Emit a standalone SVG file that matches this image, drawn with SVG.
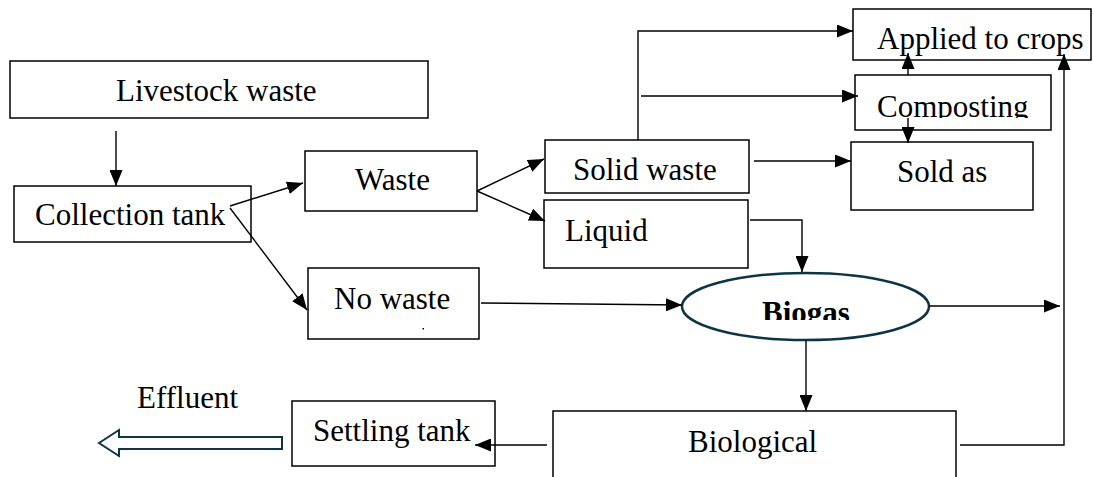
<svg xmlns="http://www.w3.org/2000/svg" width="1094" height="477" viewBox="0 0 1094 477">
<style>
.box{fill:#fff;stroke:#000;stroke-width:1.5}
.t{font-family:"Liberation Serif","Times New Roman",serif;font-size:31px;fill:#000}
.c{fill:none;stroke:#000;stroke-width:1.4}
</style>
<defs>
<marker id="ah" markerWidth="16" markerHeight="13" refX="16" refY="6.5" orient="auto" markerUnits="userSpaceOnUse"><path d="M0,0 L16,6.5 L0,13 z" fill="#000"/></marker>
<clipPath id="cpComp"><rect x="850" y="70" width="210" height="48"/></clipPath>
<clipPath id="cpBio"><rect x="680" y="270" width="260" height="50"/></clipPath>
</defs>
<rect width="1094" height="477" fill="#fff"/>
<g id="livestock"><rect class="box" x="10" y="61" width="418" height="57"/><text class="t" x="116" y="101">Livestock waste</text></g>
<g id="collection"><rect class="box" x="14" y="186" width="237" height="56"/><text class="t" x="35" y="225">Collection tank</text></g>
<g id="waste"><rect class="box" x="305" y="151" width="172" height="60"/><text class="t" x="355" y="190">Waste</text></g>
<g id="solid"><rect class="box" x="545" y="140" width="204" height="53"/><text class="t" x="573" y="180">Solid waste</text></g>
<g id="liquid"><rect class="box" x="544" y="200" width="204" height="68"/><text class="t" x="565" y="241">Liquid</text></g>
<g id="nowaste"><rect class="box" x="308" y="268" width="171" height="71"/><text class="t" x="334" y="309">No waste</text><rect x="422.5" y="328" width="1.5" height="1.5" fill="#000"/></g>
<g id="applied"><rect class="box" x="853" y="9" width="238" height="51"/><text class="t" x="877" y="49">Applied to crops</text></g>
<g id="composting"><rect class="box" x="855" y="75" width="196" height="55"/><text class="t" x="877" y="117" clip-path="url(#cpComp)">Composting</text></g>
<g id="soldas"><rect class="box" x="851" y="142" width="182" height="68"/><text class="t" x="897" y="182">Sold as</text></g>
<g id="biogas"><ellipse cx="805.5" cy="306.5" rx="123.5" ry="33.5" fill="#fff" stroke="#0f3446" stroke-width="2.5"/><text class="t" x="806" y="323" text-anchor="middle" font-weight="bold" clip-path="url(#cpBio)">Biogas</text></g>
<g id="settling"><rect class="box" x="292" y="401" width="203" height="65"/><text class="t" x="313" y="441">Settling tank</text></g>
<g id="biological"><rect class="box" x="553" y="411" width="403" height="70"/><text class="t" x="688" y="452">Biological</text></g>
<g id="effluent"><text class="t" x="137" y="408">Effluent</text><polygon points="99,443 119,430 119,437 282,437 282,449 119,449 119,456" fill="#fff" stroke="#0f3446" stroke-width="2"/></g>
<g id="connectors">
<line class="c" x1="116" y1="131" x2="116" y2="186" marker-end="url(#ah)"/>
<line class="c" x1="230" y1="206" x2="303" y2="183" marker-end="url(#ah)"/>
<line class="c" x1="230" y1="208" x2="307" y2="310" marker-end="url(#ah)"/>
<line class="c" x1="477" y1="191" x2="544" y2="159" marker-end="url(#ah)"/>
<line class="c" x1="477" y1="191" x2="545" y2="221" marker-end="url(#ah)"/>
<polyline class="c" points="638,140 638,31 853,31" marker-end="url(#ah)"/>
<line class="c" x1="641" y1="96" x2="858" y2="96" marker-end="url(#ah)"/>
<line class="c" x1="754" y1="161" x2="851" y2="161" marker-end="url(#ah)"/>
<line class="c" x1="908" y1="75" x2="908" y2="53" marker-end="url(#ah)"/>
<line class="c" x1="908" y1="118" x2="908" y2="143" marker-end="url(#ah)"/>
<polyline class="c" points="750,220 802,220 802,272" marker-end="url(#ah)"/>
<line class="c" x1="481" y1="303" x2="682" y2="305" marker-end="url(#ah)"/>
<line class="c" x1="929" y1="306" x2="1060" y2="306" marker-end="url(#ah)"/>
<line class="c" x1="806" y1="340" x2="806" y2="411" marker-end="url(#ah)"/>
<polyline class="c" points="960,445 1064,445 1064,54" marker-end="url(#ah)"/>
<line class="c" x1="547" y1="445" x2="475" y2="445" marker-end="url(#ah)"/>
</g>
</svg>
